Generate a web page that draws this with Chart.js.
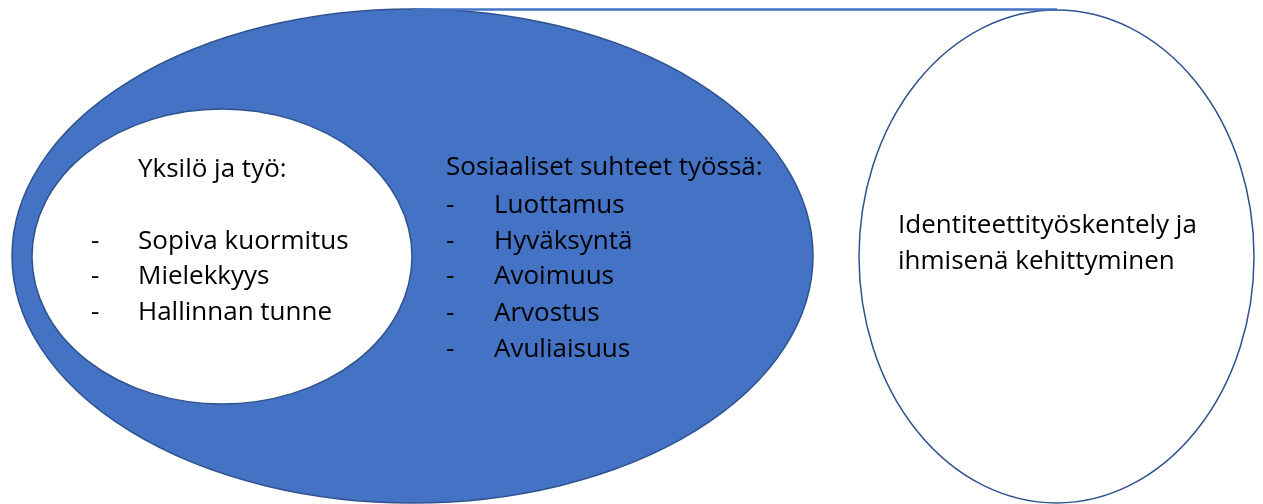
<!DOCTYPE html>
<html>
<head>
<meta charset="utf-8">
<script src="https://cdn.jsdelivr.net/npm/chart.js@4"></script>
<style>
  html, body { margin: 0; padding: 0; background: #ffffff; }
  #wrap { width: 1263px; height: 504px; position: relative; }
</style>
</head>
<body>
<div id="wrap"><canvas id="myChart"></canvas></div>
<script>
// ellipses: center x, center y, radius x, radius y (in picture units)
const ellipseNames = ["yhteiso", "yksilo", "identiteetti"];
const ellipseCx = [412.5, 222, 1056.5];
const ellipseCy = [256, 256.5, 256.5];
const ellipseRx = [400.5, 190, 197.5];
const ellipseRy = [247, 147.5, 246.5];
const ellipseFill = ["#4472c4", "#ffffff", "#ffffff"];
const ellipseStroke = ["#2f528f", "#2f528f", "#2f528f"];

// connector line on top
const lineX = [412, 1057];
const lineY = [9.5, 9.5];

// texts
const headings = ["Yksilö ja työ:", "Sosiaaliset suhteet työssä:"];
const headingX = [138, 446];
const headingY = [170, 168];

const leftItems = ["Sopiva kuormitus", "Mielekkyys", "Hallinnan tunne"];
const leftY = [242, 277, 313];
const rightItems = ["Luottamus", "Hyväksyntä", "Avoimuus", "Arvostus", "Avuliaisuus"];
const rightY = [206, 242, 277, 314, 350];

const identityLines = ["Identiteettityöskentely ja", "ihmisenä kehittyminen"];
const identityY = [226, 262];

const fontName = "'Open Sans', Lato, sans-serif";
const fontSize = 26;

//I draw ellipses under the datasets
const ellipsePlugin = {
  id: "ellipses",
  beforeDatasetsDraw(chart) {
    const ctx = chart.ctx;
    const xs = chart.scales.x;
    const ys = chart.scales.y;
    ctx.save();
    for (let i = 0; i < ellipseNames.length; i++) {
      const cx = xs.getPixelForValue(ellipseCx[i]);
      const cy = ys.getPixelForValue(ellipseCy[i]);
      const rx = Math.abs(xs.getPixelForValue(ellipseCx[i] + ellipseRx[i]) - cx);
      const ry = Math.abs(ys.getPixelForValue(ellipseCy[i] + ellipseRy[i]) - cy);
      ctx.beginPath();
      ctx.ellipse(cx, cy, rx, ry, 0, 0, Math.PI * 2);
      ctx.fillStyle = ellipseFill[i];
      ctx.fill();
      ctx.lineWidth = 1.5;
      ctx.strokeStyle = ellipseStroke[i];
      ctx.stroke();
    }
    ctx.restore();
  },
};

//I write the labels over everything
const textPlugin = {
  id: "texts",
  afterDatasetsDraw(chart) {
    const ctx = chart.ctx;
    const xs = chart.scales.x;
    const ys = chart.scales.y;
    ctx.save();
    ctx.fillStyle = "#000000";
    ctx.font = fontSize + "px " + fontName;
    ctx.textBaseline = "middle";
    ctx.textAlign = "left";

    for (let i = 0; i < headings.length; i++) {
      ctx.fillText(headings[i], xs.getPixelForValue(headingX[i]), ys.getPixelForValue(headingY[i]));
    }
    leftItems.forEach((t, i) => {
      const y = ys.getPixelForValue(leftY[i]);
      ctx.fillText("-", xs.getPixelForValue(91), y);
      ctx.fillText(t, xs.getPixelForValue(138), y);
    });
    rightItems.forEach((t, i) => {
      const y = ys.getPixelForValue(rightY[i]);
      ctx.fillText("-", xs.getPixelForValue(446), y);
      ctx.fillText(t, xs.getPixelForValue(494), y);
    });
    identityLines.forEach((t, i) => {
      ctx.fillText(t, xs.getPixelForValue(898), ys.getPixelForValue(identityY[i]));
    });
    ctx.restore();
  },
};

const ctx = document.getElementById("myChart");

new Chart(ctx, {
  type: "scatter",
  data: {
    datasets: [
      {
        label: "yhteys",
        data: lineX.map((x, i) => ({ x: x, y: lineY[i] })),
        showLine: true,
        borderColor: "#4472c4",
        borderWidth: 2.5,
        pointRadius: 0,
        fill: false,
      },
    ],
  },
  options: {
    responsive: true,
    maintainAspectRatio: false,
    animation: false,
    layout: { padding: 0 },
    plugins: {
      legend: { display: false },
      tooltip: { enabled: false },
    },
    scales: {
      x: { type: "linear", min: 0, max: 1263, display: false },
      y: { type: "linear", min: 0, max: 504, reverse: true, display: false },
    },
  },
  plugins: [ellipsePlugin, textPlugin],
});
</script>
</body>
</html>
